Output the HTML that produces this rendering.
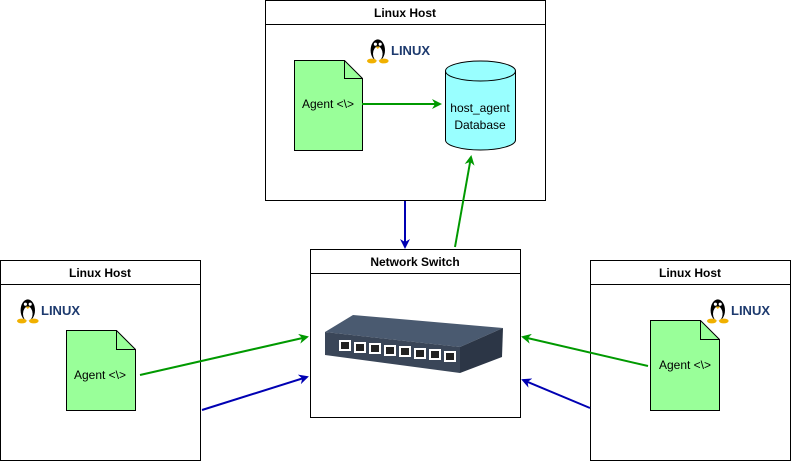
<!DOCTYPE html>
<html><head><style>body{margin:0;background:#fff}svg{display:block;font-family:"Liberation Sans",sans-serif}</style></head><body>
<svg width="791" height="461" viewBox="0 0 791 461" xmlns="http://www.w3.org/2000/svg">
<defs>
<marker id="g" markerWidth="10" markerHeight="10" refX="8" refY="5" orient="auto" markerUnits="userSpaceOnUse"><path d="M0,0 L10,5 L0,10 L3,5z" fill="#009900"/></marker>
<marker id="b" markerWidth="10" markerHeight="10" refX="8" refY="5" orient="auto" markerUnits="userSpaceOnUse"><path d="M0,0 L10,5 L0,10 L3,5z" fill="#0000b3"/></marker>
<g id="tux"><ellipse cx="9" cy="11" rx="6" ry="9" fill="#000"/><ellipse cx="9" cy="14" rx="4" ry="6" fill="#fff"/><circle cx="7" cy="6" r="1.3" fill="#fff"/><circle cx="11" cy="6" r="1.3" fill="#fff"/><path d="M7,8 L11,8 L9,10z" fill="#f0b000"/><ellipse cx="4" cy="20" rx="4" ry="2" fill="#f0b000"/><ellipse cx="14" cy="20" rx="4" ry="2" fill="#f0b000"/></g>
</defs>
<g fill="#fff" stroke="#000" stroke-width="1">
<rect x="265.5" y="0.5" width="280" height="200"/><line x1="265.5" y1="24.5" x2="545.5" y2="24.5"/>
<rect x="0.5" y="260.5" width="200" height="200"/><line x1="0.5" y1="284.5" x2="200.5" y2="284.5"/>
<rect x="310.5" y="249.5" width="210" height="168"/><line x1="310.5" y1="273.5" x2="520.5" y2="273.5"/>
<rect x="590.5" y="260.5" width="200" height="200"/><line x1="590.5" y1="284.5" x2="790.5" y2="284.5"/>
</g>
<g font-size="12" font-weight="bold" text-anchor="middle">
<text x="405" y="17">Linux Host</text><text x="100" y="277">Linux Host</text><text x="415" y="266">Network Switch</text><text x="690" y="277">Linux Host</text>
</g>
<g font-size="13" font-weight="bold" fill="#1d3a6e">
<use href="#tux" transform="translate(367,37) scale(1.2)"/><text x="391" y="55">LINUX</text>
<use href="#tux" transform="translate(17,297) scale(1.2)"/><text x="41" y="315">LINUX</text>
<use href="#tux" transform="translate(707,297) scale(1.2)"/><text x="731" y="315">LINUX</text>
</g>
<g fill="#99ff99" stroke="#000">
<path d="M294.5,60.5 H344.5 L362.5,78.5 V150.5 H294.5z"/><path d="M344.5,60.5 V78.5 H362.5" fill="none"/>
<path d="M66.5,330.5 H116.5 L135.5,349.5 V410.5 H66.5z"/><path d="M116.5,330.5 V349.5 H135.5" fill="none"/>
<path d="M650.5,320.5 H700.5 L719.5,339.5 V410.5 H650.5z"/><path d="M700.5,320.5 V339.5 H719.5" fill="none"/>
</g>
<g font-size="12" text-anchor="middle">
<text x="328" y="108">Agent &lt;\&gt;</text><text x="100" y="379">Agent &lt;\&gt;</text><text x="685" y="369">Agent &lt;\&gt;</text>
</g>
<path d="M445.5,71 V140 A35,10 0 0 0 515.5,140 V71 A35,10 0 0 0 445.5,71z" fill="#99ffff" stroke="#000"/>
<path d="M445.5,71 A35,10 0 0 0 515.5,71" fill="none" stroke="#000"/>
<text x="480" y="112" font-size="12" text-anchor="middle">host_agent</text>
<text x="480" y="129" font-size="12" text-anchor="middle">Database</text>
<g>
<path d="M325,332 L353,315 L503,328 L460,347z" fill="#4a5a70"/>
<path d="M325,332 L460,347 L460,373 L325,355z" fill="#3a4658"/>
<path d="M460,347 L503,328 L502,357 L460,373z" fill="#2c3646"/>
<g fill="#fff"><rect x="339" y="340" width="12" height="11"/><rect x="354" y="342" width="12" height="11"/><rect x="369" y="343" width="12" height="11"/><rect x="384" y="345" width="12" height="11"/><rect x="399" y="346" width="12" height="11"/><rect x="414" y="348" width="12" height="11"/><rect x="429" y="349" width="12" height="11"/><rect x="444" y="351" width="12" height="11"/></g>
<g fill="#222"><rect x="341" y="342" width="8" height="7"/><rect x="356" y="344" width="8" height="7"/><rect x="371" y="345" width="8" height="7"/><rect x="386" y="347" width="8" height="7"/><rect x="401" y="348" width="8" height="7"/><rect x="416" y="350" width="8" height="7"/><rect x="431" y="351" width="8" height="7"/><rect x="446" y="353" width="8" height="7"/></g>
</g>
<g stroke-width="2" fill="none">
<line x1="362" y1="104" x2="440" y2="104" stroke="#009900" marker-end="url(#g)"/>
<line x1="405" y1="201" x2="405" y2="247" stroke="#0000b3" marker-end="url(#b)"/>
<line x1="455" y1="247" x2="471" y2="157" stroke="#009900" marker-end="url(#g)"/>
<line x1="140" y1="375" x2="307" y2="337" stroke="#009900" marker-end="url(#g)"/>
<line x1="202" y1="410" x2="307" y2="377" stroke="#0000b3" marker-end="url(#b)"/>
<line x1="648" y1="366" x2="523" y2="337" stroke="#009900" marker-end="url(#g)"/>
<line x1="590" y1="408" x2="523" y2="380" stroke="#0000b3" marker-end="url(#b)"/>
</g>
</svg>
</body></html>
